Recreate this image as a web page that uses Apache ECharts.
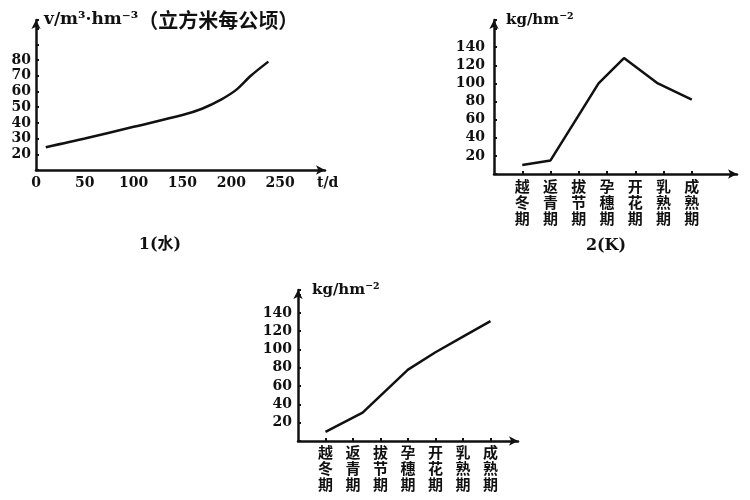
<!DOCTYPE html>
<html><head><meta charset="utf-8">
<script src="https://cdn.jsdelivr.net/npm/echarts@6/dist/echarts.min.js"></script>
<style>html,body{margin:0;padding:0;background:#fff}#c{width:750px;height:500px}</style>
</head><body><div id="c"></div>
<script>
const categories = ['越冬期','返青期','拔节期','孕穗期','开花期','乳熟期','成熟期'];
const waterT = [10, 50, 100, 150, 170, 190, 205, 220, 238];
const waterV = [24.5, 30, 37.5, 45, 49, 55, 61, 70, 79];
const kIdx = [0, 1, 2, 2.7, 3.6, 4.8, 6];
const kVal = [10, 15, 65, 100, 128, 100, 82];
const nIdx = [0, 1.35, 3, 4, 5, 6];
const nVal = [10, 31, 78, 97, 114, 131];
const waterYLabels = [20, 30, 40, 50, 60, 70, 80];
const waterXLabels = [0, 50, 100, 150, 200, 250];
const kgYLabels = [20, 40, 60, 80, 100, 120, 140];

const numFont = {fontFamily: 'DejaVu Serif', fontWeight: 'bold', fontSize: 14, color: '#111'};
const cjkFont = {fontFamily: '"Noto Sans CJK SC"', fontWeight: 'bold', fontSize: 15, color: '#111', lineHeight: 16};
const lineStyle = {color: '#111', width: 2.5};
function axisLine() {
  return {show: true, onZero: false, lineStyle: {color: '#111', width: 2.5}, symbol: ['none', 'arrow'], symbolSize: [7, 9]};
}
const tick = {show: true, inside: true, length: 3, lineStyle: {color: '#111', width: 2}};
const catTick = Object.assign({customValues: categories.map((c, i) => i)}, tick);

function zipPairs(a, b) { return a.map((v, i) => [v, b[i]]); }
function catLabel(v) {
  const i = Math.round(v);
  if (Math.abs(v - i) > 1e-6 || i < 0 || i >= categories.length) return '';
  return categories[i].split('').join('\n');
}

const chart = echarts.init(document.getElementById('c'));
chart.setOption({
  animation: false,
  backgroundColor: '#fff',
  title: [
    {text: '1(水)', left: 155, top: 232, textAlign: 'center',
     textStyle: {fontFamily: 'DejaVu Serif, "Noto Sans CJK SC"', fontWeight: 'bold', fontSize: 16, color: '#111'}},
    {text: '2(K)', left: 601, top: 233, textAlign: 'center',
     textStyle: {fontFamily: 'DejaVu Serif', fontWeight: 'bold', fontSize: 16, color: '#111'}}
  ],
  grid: [
    {left: 36, top: 20, width: 289, height: 150},
    {left: 494, top: 20, width: 243, height: 154},
    {left: 298, top: 290, width: 220, height: 151}
  ],
  xAxis: [
    {type: 'value', gridIndex: 0, min: 0, max: 296, interval: 50,
     axisLine: axisLine(), axisTick: {show: false}, splitLine: {show: false},
     axisLabel: Object.assign({margin: 6, formatter: v => waterXLabels.includes(v) ? String(v) : ''}, numFont),
     name: 't/d', nameLocation: 'end', nameGap: -8,
     nameTextStyle: Object.assign({align: 'left', verticalAlign: 'top', padding: [6, 0, 0, 0]}, numFont)},
    {type: 'value', gridIndex: 1, min: -1, max: 7.6, interval: 1,
     axisLine: axisLine(), axisTick: catTick, splitLine: {show: false},
     axisLabel: Object.assign({margin: 4, formatter: catLabel}, cjkFont)},
    {type: 'value', gridIndex: 2, min: -1, max: 7.0, interval: 1,
     axisLine: axisLine(), axisTick: catTick, splitLine: {show: false},
     axisLabel: Object.assign({margin: 3, formatter: catLabel}, cjkFont)}
  ],
  yAxis: [
    {type: 'value', gridIndex: 0, min: 10, max: 105.5, interval: 10,
     axisLine: axisLine(), axisTick: tick, splitLine: {show: false},
     axisLabel: Object.assign({margin: 5, formatter: v => waterYLabels.includes(v) ? String(v) : ''}, numFont),
     name: '{a|v/m³·hm⁻³}{b|（立方米每公顷）}', nameLocation: 'end', nameGap: 0,
     nameTextStyle: {align: 'left', verticalAlign: 'middle', padding: [0, 0, 0, 8],
       rich: {
         a: {fontFamily: 'DejaVu Serif', fontWeight: 'bold', fontSize: 17, color: '#111'},
         b: {fontFamily: '"Noto Sans CJK SC"', fontWeight: 'bold', fontSize: 20, color: '#111'}
       }}},
    {type: 'value', gridIndex: 1, min: 0, max: 170, interval: 20,
     axisLine: axisLine(), axisTick: tick, splitLine: {show: false},
     axisLabel: Object.assign({margin: 9, formatter: v => kgYLabels.includes(v) ? String(v) : ''}, numFont),
     name: 'kg/hm⁻²', nameLocation: 'end', nameGap: 0,
     nameTextStyle: {fontFamily: 'DejaVu Serif', fontWeight: 'bold', fontSize: 15, color: '#111',
                     align: 'left', verticalAlign: 'middle', padding: [0, 0, 0, 12]}},
    {type: 'value', gridIndex: 2, min: 0, max: 165, interval: 20,
     axisLine: axisLine(), axisTick: tick, splitLine: {show: false},
     axisLabel: Object.assign({margin: 6, formatter: v => kgYLabels.includes(v) ? String(v) : ''}, numFont),
     name: 'kg/hm⁻²', nameLocation: 'end', nameGap: 0,
     nameTextStyle: {fontFamily: 'DejaVu Serif', fontWeight: 'bold', fontSize: 15, color: '#111',
                     align: 'left', verticalAlign: 'middle', padding: [0, 0, 0, 14]}}
  ],
  series: [
    {type: 'line', xAxisIndex: 0, yAxisIndex: 0, data: zipPairs(waterT, waterV),
     smooth: 0.3, showSymbol: false, lineStyle: lineStyle},
    {type: 'line', xAxisIndex: 1, yAxisIndex: 1, data: zipPairs(kIdx, kVal),
     smooth: false, showSymbol: false, lineStyle: lineStyle},
    {type: 'line', xAxisIndex: 2, yAxisIndex: 2, data: zipPairs(nIdx, nVal),
     smooth: false, showSymbol: false, lineStyle: lineStyle}
  ]
});
</script></body></html>
